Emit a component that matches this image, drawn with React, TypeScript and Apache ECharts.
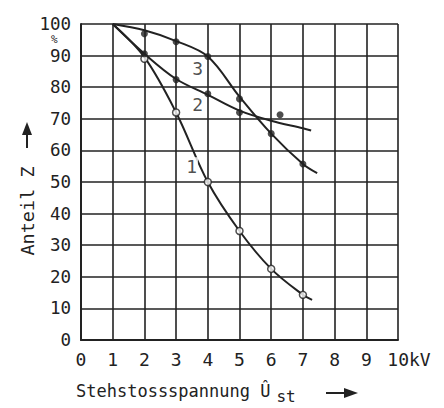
import React, { useEffect, useRef } from "react";
import * as echarts from "echarts";

// Curve 1 (open circles)
const curve1Line: [number, number][] = [
  [1, 100], [2, 89.5], [3, 72], [4, 50], [5, 34.5], [6, 22.5], [7, 14.3], [7.29, 12.7],
];
const curve1Points: [number, number][] = [
  [2, 89], [3, 72], [4, 50], [5, 34.5], [6, 22.5], [7, 14.3],
];
// Curve 2 (filled dots)
const curve2Line: [number, number][] = [
  [1, 100], [2, 90.6], [3, 82.6], [4, 77.6], [5, 72.6], [6, 69.4], [7, 67], [7.26, 66.3],
];
const curve2Points: [number, number][] = [
  [2, 90.6], [3, 82.4], [4, 77.9], [5, 72],
];
// Curve 3 (filled dots)
const curve3Line: [number, number][] = [
  [1, 100], [2, 98], [3, 94.6], [4, 89.7], [5, 77], [6, 65.3], [7, 55.7], [7.45, 52.8],
];
const curve3Points: [number, number][] = [
  [2, 96.9], [3, 94.4], [4, 89.7], [5, 76.3], [6, 65.3], [7, 55.7],
];
const strayPoint: [number, number][] = [[6.28, 71.3]];
const curveLabels: { name: string; value: [number, number] }[] = [
  { name: "1", value: [3.49, 55] },
  { name: "2", value: [3.68, 74.5] },
  { name: "3", value: [3.68, 85.8] },
];
const xTicks = ["0", "1", "2", "3", "4", "5", "6", "7", "8", "9", "10kV"];

const INK = "#222";
const FONT = "DejaVu Sans Mono, monospace";

export default function App() {
  const ref = useRef<HTMLDivElement>(null);
  useEffect(() => {
    document.body.style.margin = "0";
    const chart = echarts.init(ref.current!, undefined, { renderer: "svg" });
    const lineStyle = { color: INK, width: 2 };
    chart.setOption({
      animation: false,
      backgroundColor: "#fff",
      grid: { left: 81, right: 46, top: 24, bottom: 68, containLabel: false },
      xAxis: {
        type: "value",
        min: 0,
        max: 10,
        interval: 1,
        axisLine: { show: true, lineStyle: { color: INK, width: 2 } },
        axisTick: { show: false },
        splitLine: { show: true, lineStyle: { color: INK, width: 1.6 } },
        axisLabel: {
          color: INK,
          fontFamily: FONT,
          fontSize: 18,
          margin: 10,
          formatter: (v: number) => {
            const t = xTicks[Math.round(v)];
            return v === 10 ? "{k|" + t + "}" : t;
          },
          rich: { k: { fontFamily: FONT, fontSize: 18, color: INK, padding: [0, 0, 0, 22] } },
        },
      },
      yAxis: {
        type: "value",
        min: 0,
        max: 100,
        interval: 10,
        axisLine: { show: true, lineStyle: { color: INK, width: 2 } },
        axisTick: { show: false },
        splitLine: { show: true, lineStyle: { color: INK, width: 1.6 } },
        axisLabel: { color: INK, fontFamily: FONT, fontSize: 17.5, lineHeight: 16, margin: 10 },
      },
      graphic: [
        {
          type: "text",
          left: 51,
          top: 33.5,
          style: { text: "%", fill: INK, font: "11px " + FONT },
        },
        {
          type: "text",
          x: 76,
          y: 391,
          style: {
            text: "Stehstossspannung {a|Û}{s|st}",
            fill: INK,
            font: "17px " + FONT,
            verticalAlign: "middle",
            rich: {
              a: { fontFamily: FONT, fontSize: 17, fill: INK },
              s: { fontFamily: FONT, fontSize: 16, fill: INK, padding: [10, 0, 0, 6] },
            },
          },
        },
        { type: "line", shape: { x1: 326, y1: 393, x2: 346, y2: 393 }, style: { stroke: INK, lineWidth: 2 } },
        { type: "polygon", shape: { points: [[344, 388], [358, 393], [344, 398]] }, style: { fill: INK } },
        {
          type: "text",
          x: 27,
          y: 211,
          rotation: Math.PI / 2,
          style: {
            text: "Anteil Z",
            fill: INK,
            font: "18.5px " + FONT,
            align: "center",
            verticalAlign: "middle",
          },
        },
        { type: "line", shape: { x1: 27, y1: 148, x2: 27, y2: 132 }, style: { stroke: INK, lineWidth: 2 } },
        { type: "polygon", shape: { points: [[22, 135], [27, 122], [32, 135]] }, style: { fill: INK } },
      ],
      series: [
        { type: "line", data: curve1Line, smooth: 0.35, showSymbol: false, lineStyle, z: 3 },
        { type: "line", data: curve2Line, smooth: 0.35, showSymbol: false, lineStyle, z: 3 },
        { type: "line", data: curve3Line, smooth: 0.35, showSymbol: false, lineStyle, z: 3 },
        {
          type: "scatter",
          data: curve1Points,
          symbol: "circle",
          symbolSize: 7,
          itemStyle: { color: "#fff", borderColor: INK, borderWidth: 1.5 },
          z: 5,
        },
        { type: "scatter", data: curve2Points, symbolSize: 7, itemStyle: { color: INK }, z: 5 },
        { type: "scatter", data: curve3Points, symbolSize: 7, itemStyle: { color: INK }, z: 5 },
        { type: "scatter", data: strayPoint, symbolSize: 7, itemStyle: { color: INK }, z: 5 },
        {
          type: "scatter",
          data: curveLabels,
          symbolSize: 0,
          label: {
            show: true,
            position: "inside",
            formatter: "{b}",
            color: INK,
            fontFamily: FONT,
            fontSize: 18,
            backgroundColor: "#fff",
            padding: [0, 1],
          },
          z: 6,
        },
      ],
    });
    return () => chart.dispose();
  }, []);
  return <div ref={ref} style={{ width: 444, height: 408 }} />;
}
